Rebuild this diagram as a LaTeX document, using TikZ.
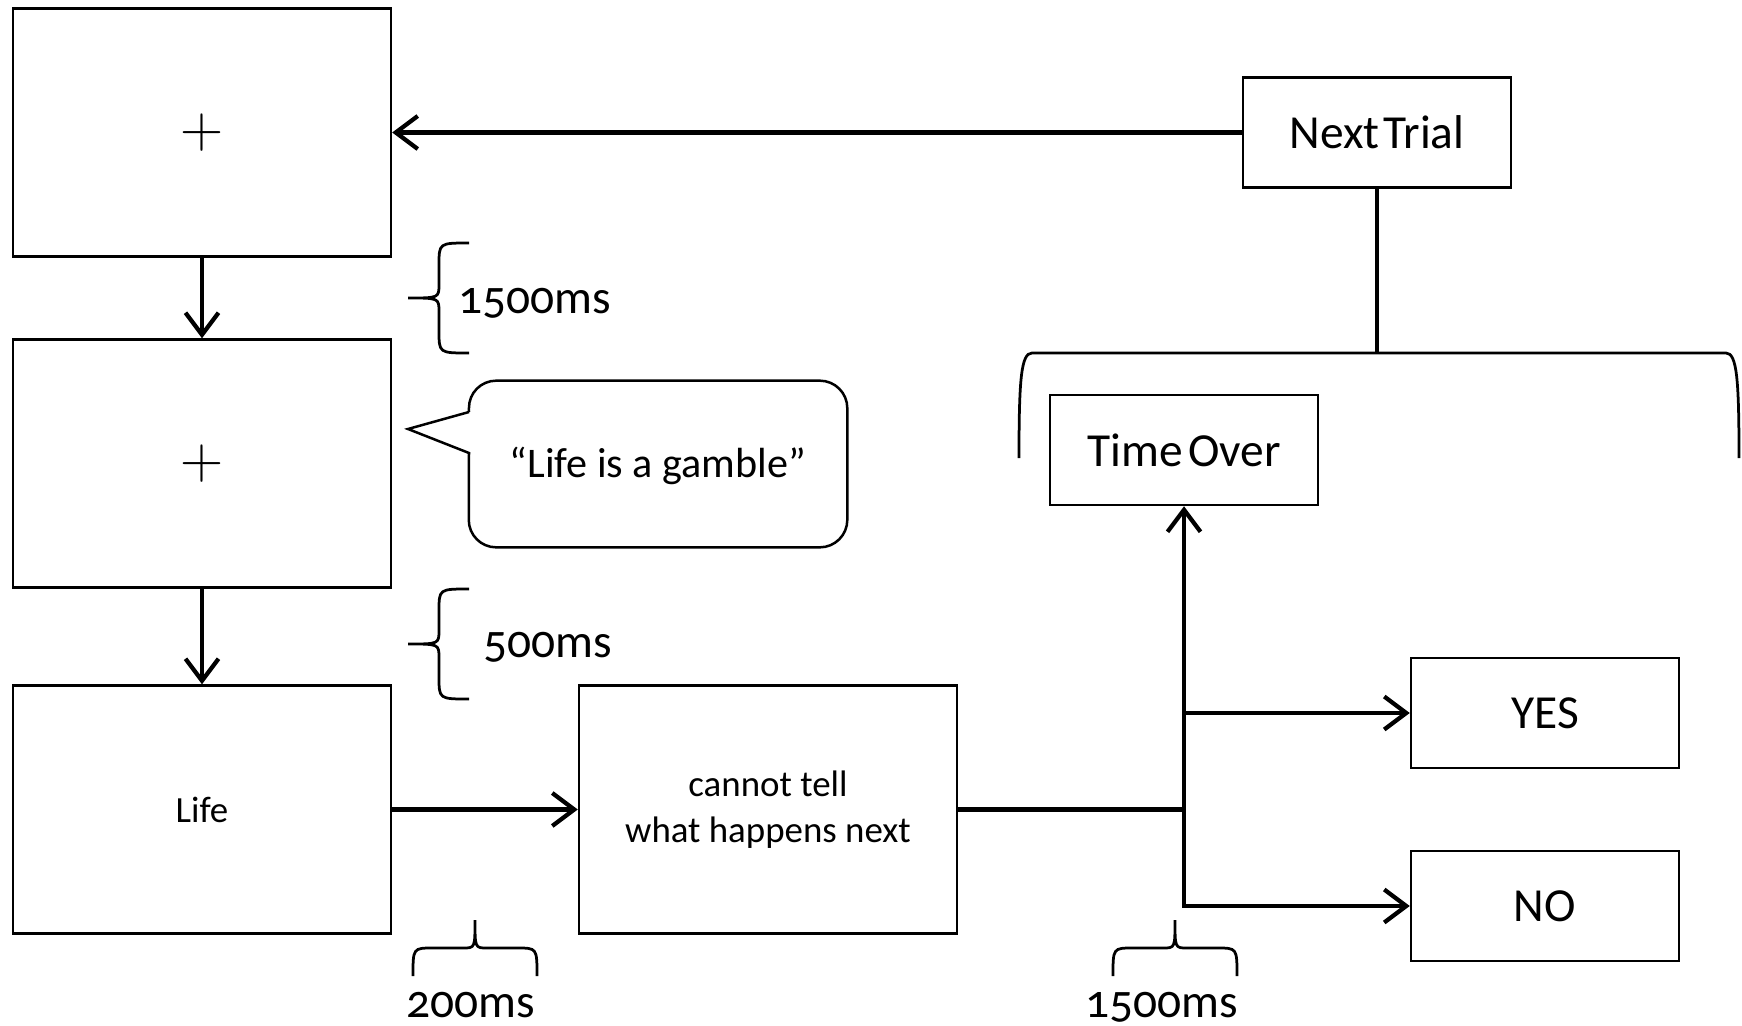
\documentclass[tikz,border=0pt]{standalone}
\usepackage{fontspec}
\setmainfont{Carlito}[Numbers=OldStyle]
\newfontfamily\crossfont{Latin Modern Roman}
\usetikzlibrary{arrows.meta}

\begin{document}
\begin{tikzpicture}[x=0.02cm, y=-0.02cm]

\tikzset{screen/.style = {shape=rectangle, draw, line width=0.05cm, inner sep=0pt, minimum width=7.56cm, minimum height=4.96cm}}
\tikzset{answer/.style = {shape=rectangle, draw, line width=0.05cm, inner sep=0pt, minimum width=5.36cm, minimum height=2.2cm, font=\fontsize{27}{30}\selectfont}}
\tikzset{edge/.style = {line width=0.085cm, -{Straight Barb[length=0.44cm, width=0.66cm]}}}
\tikzset{timelabel/.style = {font=\fontsize{27}{30}\selectfont, inner sep=0pt}}
\tikzset{cross/.style = {font=\crossfont\fontsize{34}{34}\selectfont}}
%braces, tip at the pic origin
\tikzset{lbrace/.pic = {\draw[line width=0.055cm] (61,-55) .. controls (31,-55) .. (31,-33) -- (31,-14) .. controls (31,0) .. (0,0) .. controls (31,0) .. (31,14) -- (31,33) .. controls (31,55) .. (61,55);}}
\tikzset{bbrace/.pic = {\draw[line width=0.055cm] (-62,56) .. controls (-62,28) .. (-42,28) -- (-12,28) .. controls (0,28) .. (0,0) .. controls (0,28) .. (12,28) -- (42,28) .. controls (62,28) .. (62,56);}}

\useasboundingbox (0,0) rectangle (1742,1025);

%screens
\node[screen, cross] (fix1) at (202,132.5) {+};
\node[screen, cross] (fix2) at (202,463.5) {+};
\node[screen, font=\fontsize{21}{26}\selectfont] (life) at (202,809.5) {Life};
\node[screen, align=center, font=\fontsize{21}{26}\selectfont] (cannot) at (768,809.5) {cannot tell\\what happens next};
%answers
\node[answer] (next) at (1377,132.5) {Next\kern0.08em Trial};
\node[answer] (timeover) at (1184,450) {Time\kern0.12em Over};
\node[answer] (yes) at (1545,713) {YES};
\node[answer] (no) at (1545,906) {NO};
%speech bubble
\node[inner sep=0pt, minimum width=7.56cm, minimum height=3.32cm, font=\fontsize{24}{28}\selectfont] (gamble) at (658,464) {\raisebox{-7.5pt}[0pt][0pt]{``Life is a gamble''}};
\coordinate (tail) at (408,429);
\coordinate (tailtop) at (469,412);
\coordinate (tailbot) at (469,453);
\draw[line width=0.05cm] (tailtop) -- (tail) -- (tailbot) [rounded corners=0.55cm] -- (gamble.south west) -- (gamble.south east) -- (gamble.north east) -- (gamble.north west) -- (tailtop);
%edges
\draw[edge] (next.west) -- (fix1.east);
\draw[edge] (fix1.south) -- (fix2.north);
\draw[edge] (fix2.south) -- (life.north);
\draw[edge] (life.east) -- (cannot.west);
\coordinate (split) at (timeover.south |- cannot.east);
\coordinate (yesfork) at (timeover.south |- yes.west);
\draw[line width=0.085cm] (cannot.east) -- (split);
\draw[edge] (split) -- (timeover.south);
\draw[edge] (yesfork) -- (yes.west);
\draw[edge] (split) |- (no.west);
%bracket under next trial
\coordinate (brtop) at (next.south |- 0,353);
\coordinate (brleft) at (1019,458);
\coordinate (brright) at (1739,458);
\draw[line width=0.055cm] (brleft) .. controls (1019,380) and (1021,353) .. (1032,353) -- (1726,353) .. controls (1737,353) and (1739,380) .. (brright);
\draw[line width=0.085cm] (next.south) -- (brtop);
%timing
\pic at (408,298) {lbrace};
\node[timelabel, anchor=base west] (t1) at (458,313) {1500ms};
\pic at (408,644) {lbrace};
\node[timelabel, anchor=base west] (t2) at (483,657) {500ms};
\pic at (475,920) {bbrace};
\node[timelabel, anchor=base] (t3) at (471,1017) {200ms};
\pic at (1175,920) {bbrace};
\node[timelabel, anchor=base] (t4) at (1162,1017) {1500ms};

\end{tikzpicture}
\end{document}
